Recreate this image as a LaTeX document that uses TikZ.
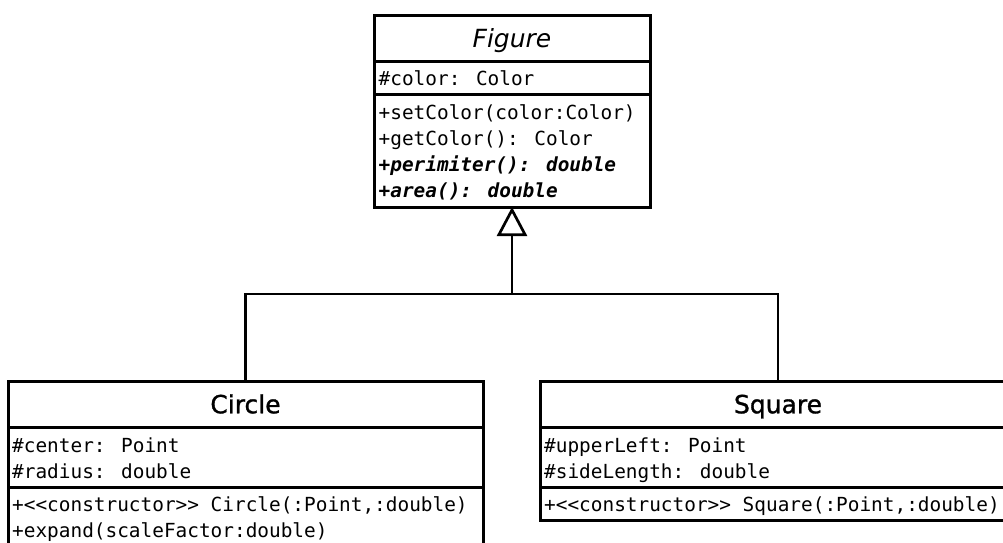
\documentclass[tikz,border=0pt]{standalone}
\usepackage{fontspec}
\setmainfont{DejaVu Sans}
\newfontfamily\umlmono{DejaVu Sans Mono}
\newfontfamily\umlheavy{DejaVu Sans}[FakeBold=1.2]
\usetikzlibrary{arrows.meta}

% fonts for class names and members
\newcommand{\umltitle}{\fontsize{25}{28}\selectfont}
\newcommand{\umlmember}{\umlmono\fontsize{19.4}{26}\selectfont}

\begin{document}
\begin{tikzpicture}[x=1pt,y=-1pt,
  compart/.style={draw, line width=3pt, rectangle, anchor=north west,
    outer sep=0pt, inner sep=0pt},
  classname/.style={compart, font=\umltitle, text height=18.5pt, text depth=0pt},
  concrete/.style={classname, font=\umlheavy\umltitle},
  member/.style={anchor=base west, inner sep=0pt, font=\umlmember},
  abstractop/.style={member, font=\umlmember\bfseries\itshape},
  link/.style={line width=2.7pt},
  generalization/.style={link, -{Triangle[open, length=29pt, width=30pt]}}
]
\path[use as bounding box] (0,0) rectangle (1003,542);
\fill[white] (0,0) rectangle (1003,542);
\begin{scope}
\clip (0,0) rectangle (1003,542);

% abstract base class
\node[classname, minimum width=276pt, minimum height=46pt] (fig-name) at (374,15) {\itshape Figure};
\node[compart, minimum width=276pt, minimum height=33pt] (fig-attr) at (374,61) {};
\node[compart, minimum width=276pt, minimum height=113pt] (fig-ops) at (374,94) {};
\node[member] (fig-a1) at (378.5,85) {\#color: Color};
\node[member] (fig-o1) at (378.5,119) {+setColor(color:Color)};
\node[member] (fig-o2) at (378.5,145) {+getColor(): Color};
\node[abstractop] (fig-o3) at (378.5,171) {+perimiter(): double};
\node[abstractop] (fig-o4) at (378.5,197) {+area(): double};

% Circle subclass
\node[concrete, minimum width=475pt, minimum height=46pt] (circ-name) at (8,381) {Circle};
\node[compart, minimum width=475pt, minimum height=60pt] (circ-attr) at (8,427) {};
\node[compart, minimum width=475pt, minimum height=70pt] (circ-ops) at (8,487) {};
\node[member] (circ-a1) at (12,452) {\#center: Point};
\node[member] (circ-a2) at (12,478) {\#radius: double};
\node[member] (circ-o1) at (12,511.5) {+<{}<constructor>{}> Circle(:Point,:double)};
\node[member] (circ-o2) at (12,537) {+expand(scaleFactor:double)};

% Square subclass
\node[concrete, minimum width=476pt, minimum height=46pt] (sq-name) at (540,381) {Square};
\node[compart, minimum width=476pt, minimum height=60pt] (sq-attr) at (540,427) {};
\node[compart, minimum width=476pt, minimum height=33pt] (sq-ops) at (540,487) {};
\node[member] (sq-a1) at (544,452) {\#upperLeft: Point};
\node[member] (sq-a2) at (544,478) {\#sideLength: double};
\node[member] (sq-o1) at (544,511.5) {+<{}<constructor>{}> Square(:Point,:double)};

% inheritance tree
\coordinate (bus) at (512,294);
\draw[link] (circ-name.north) |- (bus) -| (sq-name.north);
\draw[generalization] (bus) -- (fig-ops.south);
\end{scope}
\end{tikzpicture}
\end{document}
